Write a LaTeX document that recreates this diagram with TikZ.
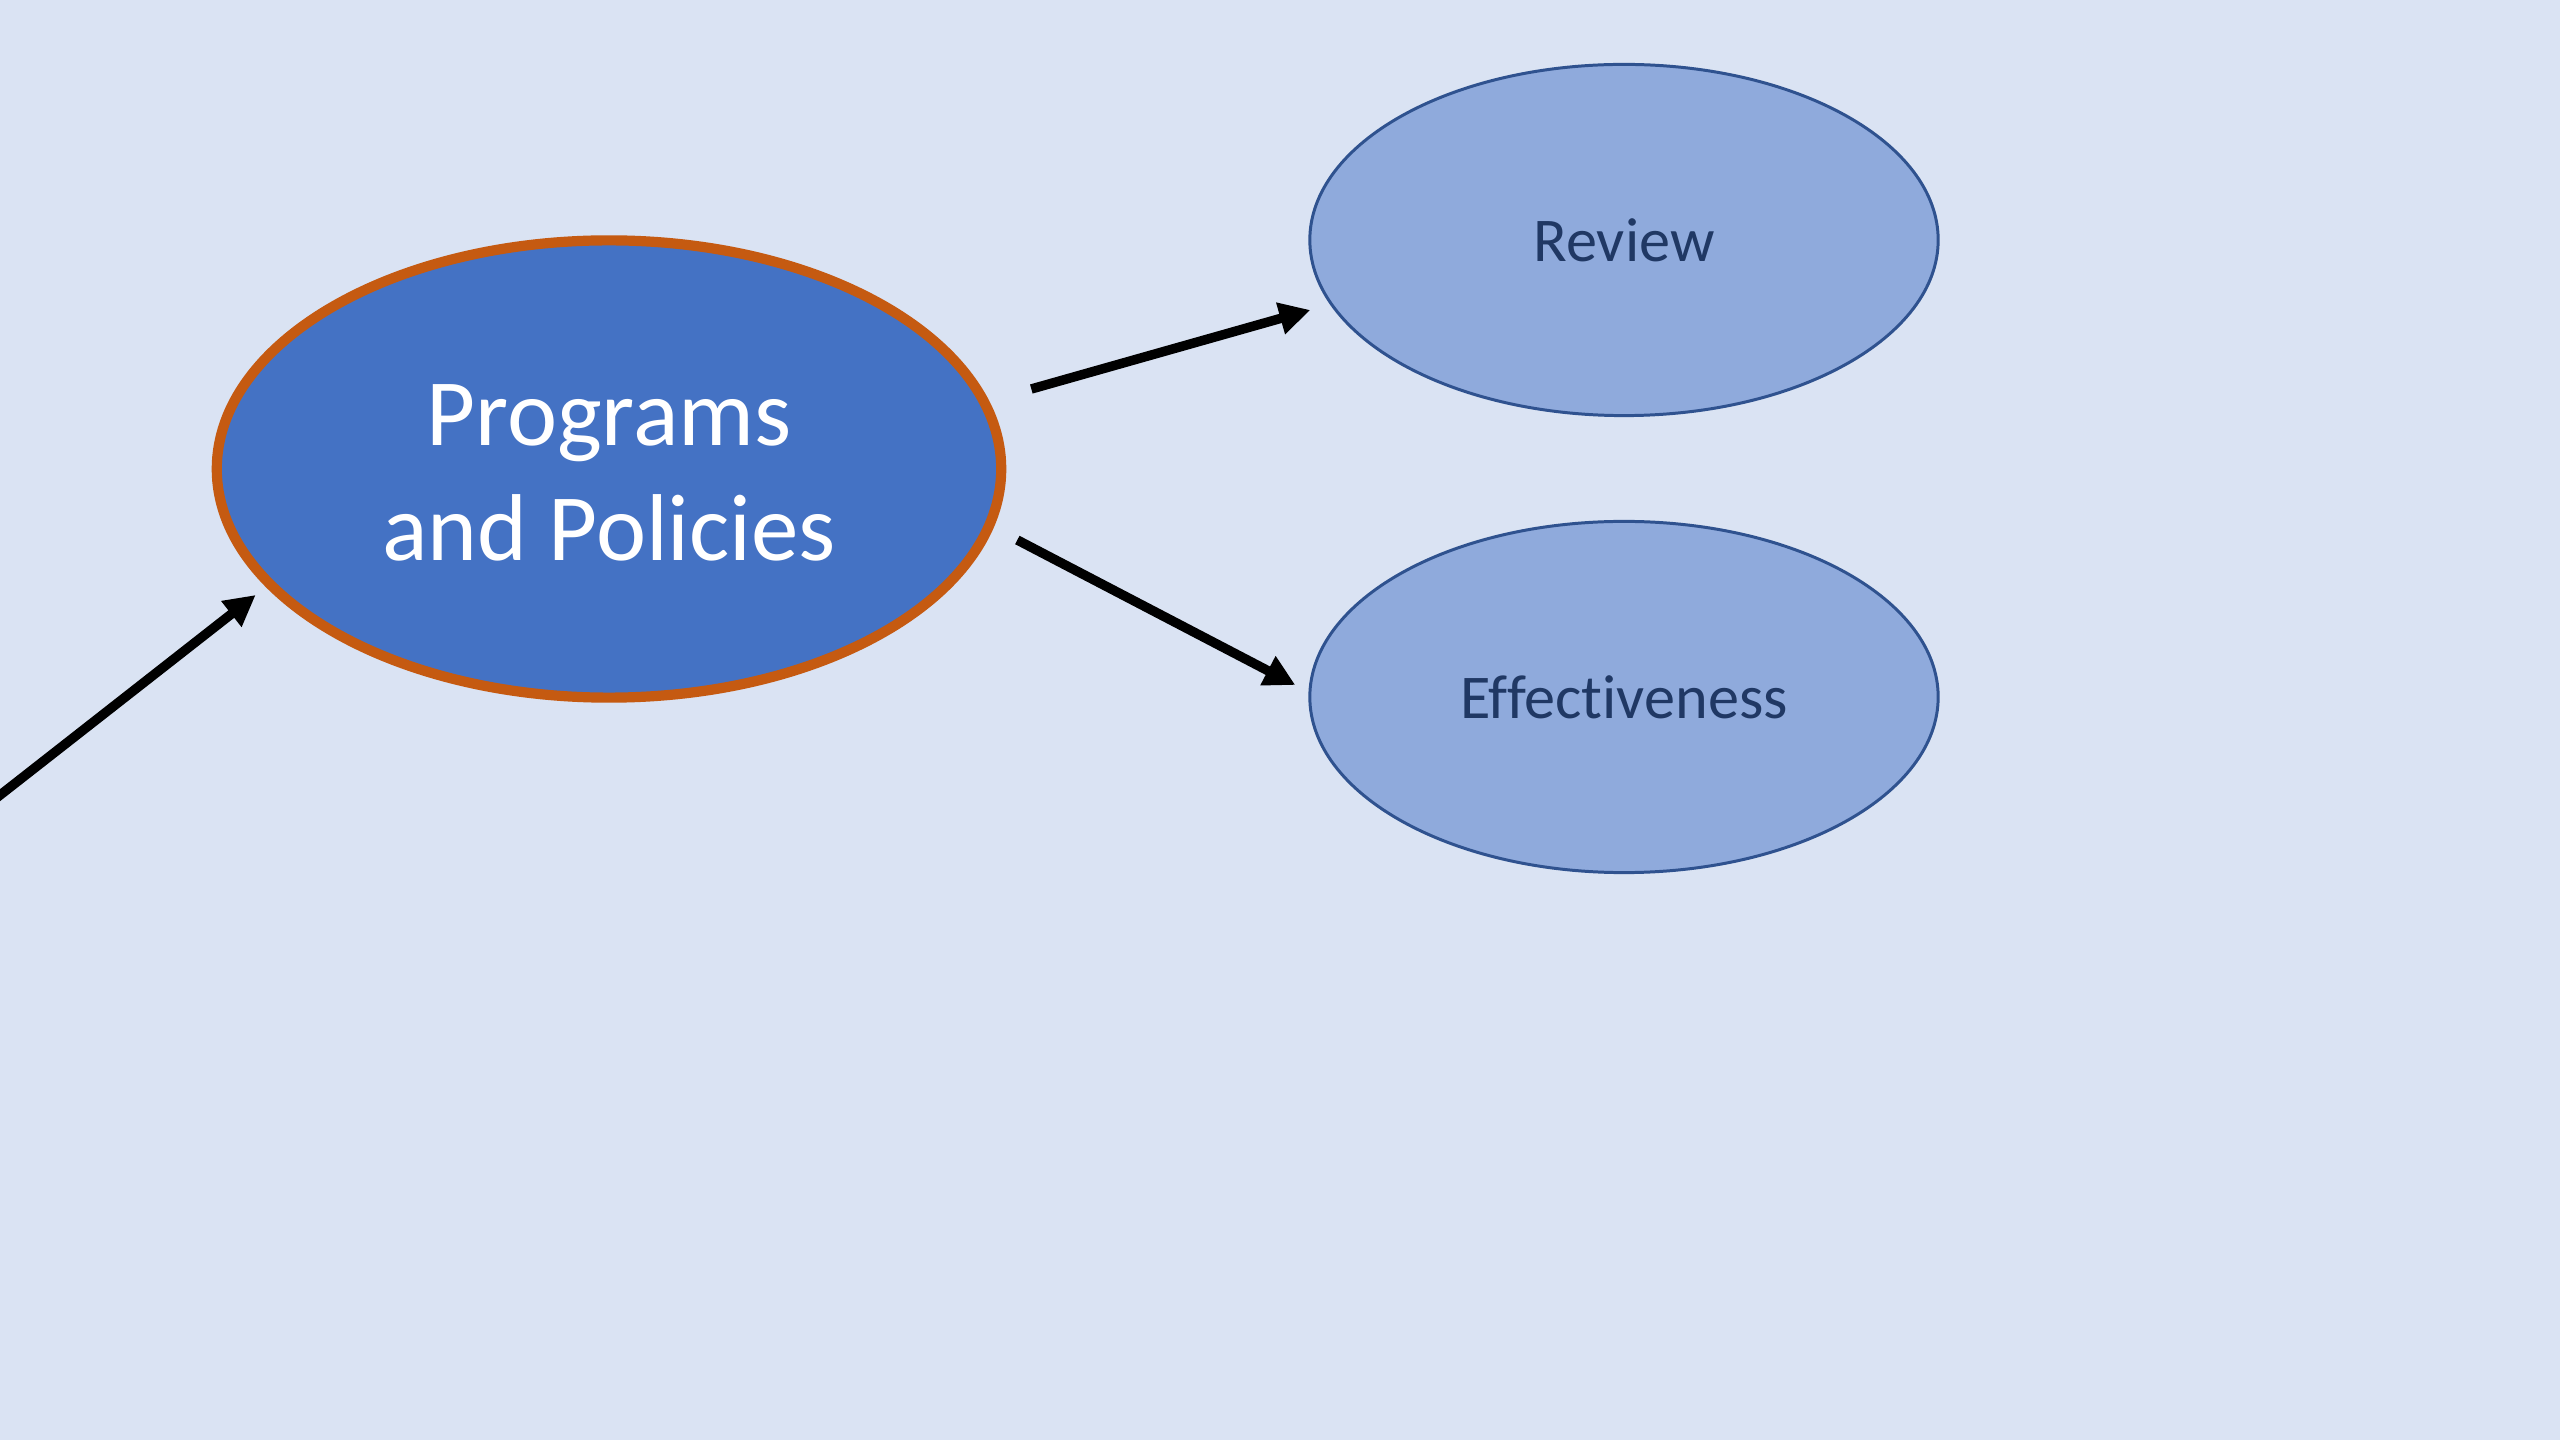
\documentclass[tikz,border=0pt]{standalone}
\usepackage{fontspec}
\setmainfont{Carlito}[Ligatures=NoCommon]
\usetikzlibrary{shapes.geometric,arrows.meta,calc}
\definecolor{bgblue}{HTML}{DAE3F3}
\definecolor{mainblue}{HTML}{4472C4}
\definecolor{rimorange}{HTML}{C55A11}
\definecolor{lightblue}{HTML}{8FAADC}
\definecolor{rimblue}{HTML}{2F528F}
\definecolor{textnavy}{HTML}{203864}
\begin{document}
\begin{tikzpicture}[x=0.01cm, y=-0.01cm, >={Triangle[length=8.8pt,width=8.8pt]},
main node/.style={ellipse, draw=rimorange, fill=mainblue, line width=2.9pt, minimum width=7.84cm, minimum height=4.57cm, text=white, align=center, font=\fontsize{27}{32.5}\selectfont},
side node/.style={ellipse, draw=rimblue, fill=lightblue, line width=0.85pt, minimum width=6.28cm, minimum height=3.51cm, text=textnavy, font=\fontsize{17.7}{21}\selectfont},
link/.style={->, line width=2.7pt}]
\path[fill=bgblue, use as bounding box] (0,0) rectangle (2560,1440);
\node[main node] (prog) at (609,469) {\rule{0pt}{19.5pt}Programs\\and Policies};
\node[side node] (review) at (1624,240) {Review};
\node[side node] (effect) at (1624,697) {Effectiveness};
\coordinate (src) at (-10,803);
\draw[link] (src) -- ($(prog.west)+(44,126)$);
\draw[link] ($(prog.east)+(25,-80)$) -- ($(review.west)+(2,70)$);
\draw[link] ($(prog.east)+(11,71)$) -- ($(effect.west)+(-13,-12)$);
\end{tikzpicture}
\end{document}
